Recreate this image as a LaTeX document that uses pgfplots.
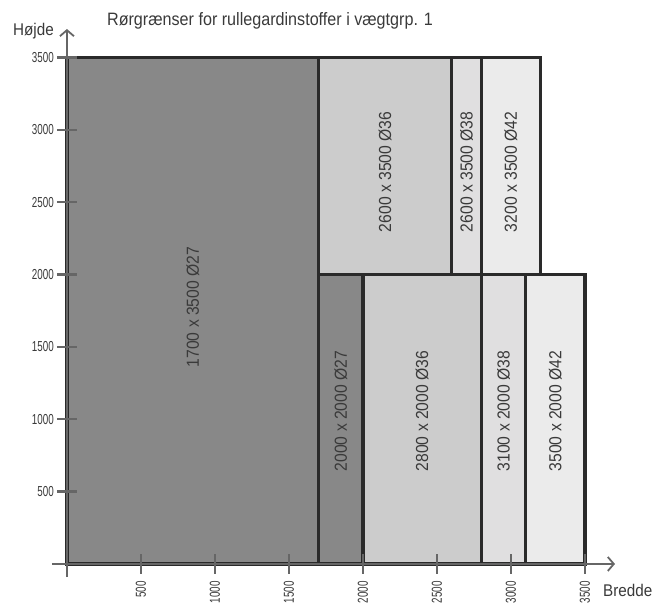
\documentclass[border=0pt]{standalone}
\usepackage{pgfplots}
\pgfplotsset{compat=1.18}
\usetikzlibrary{arrows.meta}
\usepackage{fontspec}
\setmainfont{Liberation Sans}[FakeStretch=0.9]
\newfontfamily\tickfont{Liberation Sans}[FakeStretch=0.68]
\definecolor{c1}{HTML}{888888}
\definecolor{c2}{HTML}{CCCCCC}
\definecolor{c3}{HTML}{E0DFE0}
\definecolor{c4}{HTML}{EBEBEB}
\definecolor{bord}{HTML}{2A2A2A}
\definecolor{axc}{HTML}{666666}
\definecolor{txt}{HTML}{3A3A3A}
\begin{document}
\begin{tikzpicture}
\begin{axis}[name=ax, scale only axis, width=563bp, height=548bp,
 xmin=-101, xmax=3703, ymin=-90, ymax=3697,
 axis lines=middle, axis on top, clip=false,
 axis line style={draw=axc, line width=2.8bp, -{Straight Barb[length=6bp,width=14bp,line width=1.8bp]}},
 xtick={500,1000,...,3500}, ytick={500,1000,...,3500},
 major tick length=20bp, tick align=center,
 tick style={draw=axc, line width=2.4bp},
 /pgf/number format/assume math mode=true,
 /pgf/number format/1000 sep={},
 ticklabel style={font=\tickfont\fontsize{14.5}{15}\selectfont, text=txt, inner sep=0pt},
 xticklabel style={rotate=90, anchor=east},
 xticklabel shift=7bp,
 yticklabel style={anchor=east},
 yticklabel shift=3bp,
 every axis plot/.append style={draw=bord, line width=3.2bp, line join=miter},
]
\addplot[fill=c1] coordinates {(0,0) (1700,0) (1700,3500) (0,3500)} -- cycle;
\addplot[fill=c2] coordinates {(1700,2000) (2600,2000) (2600,3500) (1700,3500)} -- cycle;
\addplot[fill=c3] coordinates {(2600,2000) (2800,2000) (2800,3500) (2600,3500)} -- cycle;
\addplot[fill=c4] coordinates {(2800,2000) (3200,2000) (3200,3500) (2800,3500)} -- cycle;
\addplot[fill=c1] coordinates {(1700,0) (2000,0) (2000,2000) (1700,2000)} -- cycle;
\addplot[fill=c2] coordinates {(2000,0) (2800,0) (2800,2000) (2000,2000)} -- cycle;
\addplot[fill=c3] coordinates {(2800,0) (3100,0) (3100,2000) (2800,2000)} -- cycle;
\addplot[fill=c4] coordinates {(3100,0) (3500,0) (3500,2000) (3100,2000)} -- cycle;
\tikzset{rl/.style={rotate=90, text=txt, font=\fontsize{17.5}{18}\selectfont}}
\node[rl] at (axis cs:850,1776) {1700 x 3500 Ø27};
\node[rl] at (axis cs:2150,2709) {2600 x 3500 Ø36};
\node[rl] at (axis cs:2700,2709) {2600 x 3500 Ø38};
\node[rl] at (axis cs:3000,2709) {3200 x 3500 Ø42};
\node[rl] at (axis cs:1850,1057) {2000 x 2000 Ø27};
\node[rl] at (axis cs:2400,1057) {2800 x 2000 Ø36};
\node[rl] at (axis cs:2950,1057) {3100 x 2000 Ø38};
\node[rl] at (axis cs:3300,1057) {3500 x 2000 Ø42};
\node[anchor=base west, inner sep=0pt, text=txt, font=\fontsize{18}{20}\selectfont] at (axis cs:270,3718) {Rørgrænser for rullegardinstoffer i vægtgrp. 1};
\node[anchor=base west, inner sep=0pt, text=txt, font=\fontsize{17}{20}\selectfont] at (axis cs:-365,3649) {Højde};
\node[anchor=base west, inner sep=0pt, text=txt, font=\fontsize{17}{20}\selectfont] at (axis cs:3622,-228) {Bredde};
\end{axis}
\pgfresetboundingbox
\path[use as bounding box] ([xshift=-52bp,yshift=-29bp]ax.south west) rectangle ([xshift=42bp,yshift=29bp]ax.north east);
\end{tikzpicture}
\end{document}
